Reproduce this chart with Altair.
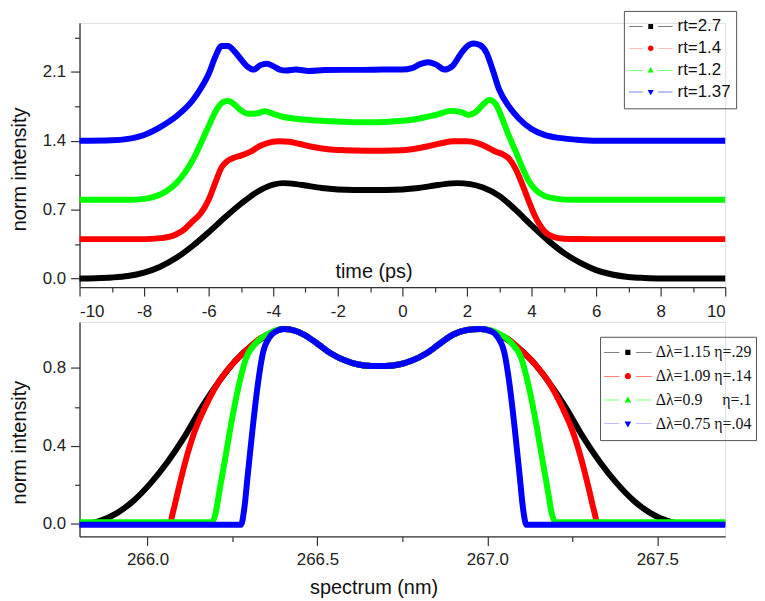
import altair as alt
import pandas as pd

FONT = "Liberation Sans"
SERIF = "Liberation Serif"
COLORS = ["#000000", "#ff0000", "#00ff00", "#0000ff"]

# ---------------- top panel: time (ps) ----------------
top_names = ["rt=2.7", "rt=1.4", "rt=1.2", "rt=1.37"]

t_black = [-10, -9.5, -9, -8.5, -8, -7.5, -7, -6.5, -6, -5.5, -5, -4.5, -4, -3.7, -3.3, -3, -2.5, -2,
           -1.5, -1, -0.5, 0, 0.5, 1, 1.3, 1.7, 2.1, 2.5, 3, 3.5, 4, 4.5, 5, 5.5, 6, 6.5, 7, 7.5, 8, 9, 10]
v_black = [0, 0.003, 0.01, 0.025, 0.06, 0.12, 0.21, 0.33, 0.47, 0.62, 0.76, 0.88, 0.955, 0.97, 0.96,
           0.945, 0.92, 0.905, 0.9, 0.9, 0.9, 0.905, 0.92, 0.945, 0.96, 0.97, 0.96, 0.925, 0.84, 0.7,
           0.54, 0.39, 0.26, 0.16, 0.085, 0.04, 0.015, 0.005, 0, 0, 0]

t_red = [-10, -8, -7.5, -7.2, -7, -6.75, -6.5, -6.25, -6, -5.8, -5.6, -5.4, -5.2, -5, -4.7, -4.4,
         -4.1, -3.8, -3.5, -3.2, -2.8, -2.3, -1.8, -1.2, -0.6, 0, 0.4, 0.8, 1.2, 1.6, 2, 2.3, 2.6,
         2.9, 3.1, 3.3, 3.5, 3.7, 3.9, 4.1, 4.4, 4.7, 5, 5.5, 6, 10]
v_red = [0.4, 0.4, 0.41, 0.425, 0.45, 0.5, 0.58, 0.66, 0.8, 0.97, 1.13, 1.2, 1.23, 1.25, 1.29, 1.35,
         1.385, 1.395, 1.39, 1.37, 1.34, 1.315, 1.305, 1.3, 1.3, 1.305, 1.32, 1.345, 1.375, 1.395,
         1.395, 1.38, 1.34, 1.29, 1.265, 1.22, 1.12, 0.97, 0.8, 0.64, 0.48, 0.42, 0.405, 0.401, 0.4, 0.4]

t_green = [-10, -8.5, -8, -7.6, -7.3, -7, -6.75, -6.5, -6.25, -6, -5.75, -5.55, -5.4, -5.2, -5.0,
           -4.75, -4.5, -4.25, -4.0, -3.7, -3.3, -2.8, -2.2, -1.5, -0.8, -0.2, 0.3, 0.7, 1.1, 1.5,
           1.8, 2.05, 2.3, 2.5, 2.7, 2.9, 3.1, 3.3, 3.5, 3.7, 3.9, 4.1, 4.4, 4.8, 5.3, 6, 10]
v_green = [0.8, 0.8, 0.81, 0.84, 0.89, 0.97, 1.07, 1.2, 1.37, 1.55, 1.72, 1.795, 1.805, 1.77, 1.71,
           1.675, 1.68, 1.70, 1.675, 1.645, 1.625, 1.61, 1.6, 1.59, 1.59, 1.6, 1.615, 1.64, 1.67,
           1.705, 1.695, 1.665, 1.7, 1.77, 1.815, 1.77, 1.62, 1.45, 1.3, 1.14, 1.0, 0.91, 0.84,
           0.81, 0.8, 0.8, 0.8]

t_blue = [-10, -9, -8.5, -8, -7.5, -7.0, -6.5, -6.25, -6.0, -5.8, -5.6, -5.4, -5.2,
          -5.0, -4.8, -4.6, -4.4, -4.2, -4.0, -3.8, -3.6, -3.3, -2.9, -2.4, -1.8, -1.2, -0.6, 0,
          0.3, 0.55, 0.8, 1.05, 1.3, 1.55, 1.8, 2.0, 2.2, 2.4, 2.6, 2.8, 3.0, 3.3, 3.6, 4.0, 4.4,
          4.85, 5.3, 6, 7, 10]
v_blue = [1.4, 1.405, 1.42, 1.46, 1.54, 1.65, 1.81, 1.93, 2.08, 2.25, 2.365, 2.365, 2.31,
          2.23, 2.155, 2.125, 2.17, 2.185, 2.16, 2.125, 2.115, 2.125, 2.11, 2.12, 2.122, 2.122,
          2.125, 2.125, 2.14, 2.18, 2.2, 2.175, 2.125, 2.16, 2.28, 2.36, 2.39, 2.375, 2.3, 2.12,
          1.92, 1.75, 1.63, 1.52, 1.46, 1.43, 1.415, 1.4, 1.4, 1.4]

top_x_ticks = list(range(-10, 11))
top_y_ticks = [0, 0.35, 0.7, 1.05, 1.4, 1.75, 2.1, 2.45]

# ---------------- bottom panel: spectrum (nm) ----------------
bot_names = ["\u0394\u03bb=1.15 \u03b7=.29", "\u0394\u03bb=1.09 \u03b7=.14",
             "\u0394\u03bb=0.9\u00a0\u00a0\u00a0\u00a0 \u03b7=.1", "\u0394\u03bb=0.75 \u03b7=.04"]

core_l = [266.40, 266.43, 266.46, 266.50, 266.54, 266.58, 266.62, 266.66, 266.70, 266.74, 266.78,
          266.82, 266.86, 266.90, 266.94, 266.98]
core_v = [1.0, 0.993, 0.972, 0.925, 0.875, 0.84, 0.818, 0.81, 0.81, 0.818, 0.84, 0.875, 0.925,
          0.972, 0.995, 1.0]

l_black = ([265.80, 265.82, 265.86, 265.91, 265.96, 266.01, 266.06, 266.11, 266.16, 266.21, 266.26,
            266.31, 266.36] + core_l +
           [267.03, 267.08, 267.13, 267.18, 267.23, 267.28, 267.33, 267.38, 267.43, 267.48, 267.53,
            267.57, 267.70])
s_black = ([0, 0, 0.015, 0.055, 0.12, 0.21, 0.32, 0.45, 0.6, 0.73, 0.84, 0.92, 0.975] + core_v +
           [0.975, 0.92, 0.84, 0.73, 0.6, 0.45, 0.32, 0.21, 0.12, 0.055, 0.015, 0, 0])

l_red = ([265.80, 266.065, 266.075, 266.09, 266.11, 266.14, 266.17, 266.21, 266.25, 266.29, 266.33,
          266.37] + core_l +
         [267.02, 267.06, 267.10, 267.14, 267.18, 267.22, 267.25, 267.28, 267.30, 267.315, 267.325,
          267.70])
s_red = ([0, 0, 0.06, 0.17, 0.31, 0.48, 0.6, 0.73, 0.82, 0.89, 0.95, 0.985] + core_v +
         [0.985, 0.95, 0.89, 0.82, 0.73, 0.6, 0.48, 0.31, 0.17, 0.06, 0, 0])

l_green = ([265.80, 266.19, 266.20, 266.21, 266.23, 266.25, 266.27, 266.29, 266.32, 266.36] +
           core_l +
           [267.03, 267.07, 267.10, 267.12, 267.14, 267.16, 267.18, 267.19, 267.20, 267.70])
s_green = ([0.008, 0.008, 0.05, 0.15, 0.35, 0.55, 0.72, 0.85, 0.93, 0.98] + core_v +
           [0.98, 0.93, 0.85, 0.72, 0.55, 0.35, 0.15, 0.05, 0.008, 0.008])

l_blue = ([265.80, 266.275, 266.285, 266.295, 266.31, 266.325, 266.34, 266.36, 266.38] + core_l +
          [267.01, 267.03, 267.05, 267.065, 267.08, 267.095, 267.105, 267.115, 267.70])
s_blue = ([-0.005, -0.005, 0.08, 0.25, 0.5, 0.72, 0.88, 0.96, 0.99] + core_v +
          [0.99, 0.96, 0.88, 0.72, 0.5, 0.25, 0.08, -0.005, -0.005])

bot_x_ticks = [266.0, 266.25, 266.5, 266.75, 267.0, 267.25, 267.5]
bot_y_ticks = [0, 0.2, 0.4, 0.6, 0.8]

# ---------------- legend symbols: faint line - marker - faint line ----------------
SEG = "M-1,-0.009H-0.36V0.009H-1Z M0.34,-0.009H1V0.009H0.34Z "
SHAPES = [SEG + "M-0.11,-0.11H0.11V0.11H-0.11Z",
          SEG + "M0.13,0A0.13,0.13,0,1,1,-0.13,0A0.13,0.13,0,1,1,0.13,0Z",
          SEG + "M0,-0.15L0.14,0.1L-0.14,0.1Z",
          SEG + "M0,0.15L0.14,-0.1L-0.14,-0.1Z"]


def build_df(names, xs_list, vs_list, xcol):
    rows = []
    for name, xs, vs in zip(names, xs_list, vs_list):
        for x, v in zip(xs, vs):
            rows.append({xcol: x, "v": v, "series": name, "sm": name})
    return pd.DataFrame(rows)


top_df = build_df(top_names, [t_black, t_red, t_green, t_blue],
                  [v_black, v_red, v_green, v_blue], "t")
bot_df = build_df(bot_names, [l_black, l_red, l_green, l_blue],
                  [s_black, s_red, s_green, s_blue], "lam")

AX = dict(grid=False, domainColor="#333333", domainWidth=1.3, tickColor="#333333", tickWidth=1.2,
          tickSize=9, labelFont=FONT, labelFontSize=17, labelColor="#222222", titleFont=FONT,
          titleFontSize=20, titleFontWeight="normal", titleColor="#111111")


def axis(step, label_expr, **kw):
    test = f"abs(datum.value/{step} - round(datum.value/{step})) > 0.1"
    return alt.Axis(values=kw.pop("values"),
                    labelExpr=f"{test} ? '' : {label_expr}",
                    tickDash={"condition": {"test": test, "value": [5, 30]}, "value": []},
                    **AX, **kw)


def legend(lx, ly, font, font_size, row_h, sym, pad, off):
    return alt.Legend(orient="none", legendX=lx, legendY=ly, title=None, direction="vertical",
                      symbolSize=sym * sym, clipHeight=row_h, rowPadding=0, padding=pad,
                      labelOffset=off, labelFont=font, labelFontSize=font_size,
                      labelColor="#111111", labelOpacity=1, symbolOffset=0,
                      symbolStrokeWidth=0, symbolOpacity=1, strokeColor="#555555")


def panel(df, xcol, names, xaxis, yaxis, xdom, ydom, w, h, leg):
    base = alt.Chart(df).encode(
        x=alt.X(f"{xcol}:Q", scale=alt.Scale(domain=xdom, nice=False, zero=False), axis=xaxis),
        y=alt.Y("v:Q", scale=alt.Scale(domain=ydom, nice=False, zero=False), axis=yaxis),
    )
    layers = []
    for n in names:
        layers.append(
            base.transform_filter(alt.datum.series == n)
            .mark_line(strokeWidth=6, interpolate="monotone")
            .encode(color=alt.Color("series:N", scale=alt.Scale(domain=names, range=COLORS),
                                    legend=leg))
        )
    layers.append(
        base.transform_filter("false")
        .mark_point(filled=True)
        .encode(shape=alt.Shape("sm:N", scale=alt.Scale(domain=names, range=SHAPES),
                                legend=leg),
                fill=alt.Fill("sm:N", scale=alt.Scale(domain=names, range=COLORS),
                              legend=leg))
    )
    return alt.layer(*layers).properties(width=w, height=h)


top = panel(
    top_df, "t", top_names,
    axis(2, "'' + datum.value", values=top_x_ticks, title="time (ps)", titleX=296, titleY=-16,
         titleBaseline="middle", titleAlign="center", labelPadding=8),
    axis(0.7, "format(datum.value, '.1f')", values=top_y_ticks, title="norm intensity",
         titleX=-60, titleY=147, titleBaseline="middle", titleAlign="center", labelPadding=5),
    [-10, 10], [-0.088, 2.6], 650, 266,
    legend(548, -12, FONT, 17, 21.3, 44, 5, 5),
)

bottom = panel(
    bot_df, "lam", bot_names,
    axis(0.5, "format(datum.value, '.1f')", values=bot_x_ticks, title="spectrum (nm)",
         titleX=296, titleY=51, titleBaseline="middle", titleAlign="center", labelPadding=6),
    axis(0.4, "format(datum.value, '.1f')", values=bot_y_ticks, title="norm intensity",
         titleX=-60, titleY=121, titleBaseline="middle", titleAlign="center", labelPadding=5),
    [265.8, 267.7], [-0.065, 1.037], 650, 216,
    legend(524, 15, SERIF, 16, 23.3, 48, 4, 4),
)

chart = (
    alt.vconcat(top, bottom, spacing=-5)
    .resolve_scale(x="independent", y="independent", color="independent",
                   shape="independent", fill="independent")
    .resolve_legend(color="independent", shape="independent", fill="independent")
    .properties(padding={"left": 1, "top": 0, "right": 0, "bottom": 0})
    .configure_view(stroke="transparent")
    .configure(background="white")
)

chart.save("out.html", embed_options={"renderer": "svg", "actions": False})
